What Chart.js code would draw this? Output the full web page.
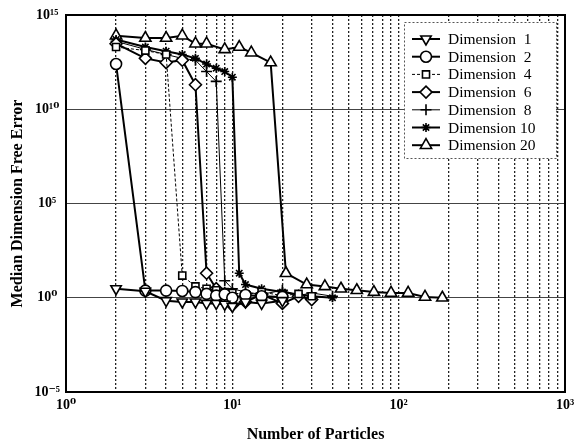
<!DOCTYPE html>
<html><head><meta charset="utf-8">
<script src="https://cdn.jsdelivr.net/npm/chart.js"></script>
<style>html,body{margin:0;padding:0;background:#fff}</style>
</head><body>
<canvas id="c" width="580" height="446"></canvas>
<script>
// ---- data ----
const seriesLabels = ['Dimension  1','Dimension  2','Dimension  4','Dimension  6','Dimension  8','Dimension 10','Dimension 20'];

const xDim1  = [2,3,4,5,6,7,8,9,10,12,15,20];
const yDim1  = [3, 2.2, 0.7, 0.6, 0.6, 0.5, 0.5, 0.45, 0.35, 0.6, 0.5, 0.7];

const xDim2  = [2,3,4,5,6,7,8,9,10,12,15,20];
const yDim2  = [2.5e12, 2.4, 2.4, 2.3, 2, 1.6, 1.3, 1.5, 1.0, 1.4, 1.2, 1.1];

const xDim4  = [2,3,4,5,6,7,8,9,10,12,15,20,25,30];
const yDim4  = [2e13, 1.3e13, 8e12, 15, 4, 3, 2.5, 2, 1.8, 1.5, 2, 1.3, 1.6, 1.2];

const xDim6  = [2,3,4,5,6,7,8,9,10,12,15,20,25,30];
const yDim6  = [3e13, 5e12, 3e12, 4e12, 2e11, 20, 3, 1.6, 0.4, 0.6, 1.5, 0.5, 1.2, 0.8];

const xDim8  = [2,3,4,5,6,7,8,9,10,12,15,20,25,30,40];
const yDim8  = [4e13, 1.5e13, 8e12, 5e12, 4e12, 1e12, 3e11, 8, 3, 2, 1.5, 2.5, 1.3, 1.8, 1.2];

const xDim10 = [2,3,4,5,6,7,8,9,10,11,12,15,20,25,30,40];
const yDim10 = [5e13, 2e13, 1.2e13, 8e12, 5e12, 2.5e12, 1.5e12, 1e12, 5e11, 20, 5, 3, 2, 1.5, 1.2, 1];

const xDim20 = [2,3,4,5,6,7,9,11,13,17,21,28,36,45,56,71,90,114,144,183];
const yDim20 = [8e13,6e13,6e13,8e13,3e13,3e13,1.5e13,2e13,1e13,3e12,20,5,4,3,2.5,2,1.8,1.8,1.1,1];

const xTickValues = [1,2,3,4,5,6,7,8,9,10,20,30,40,50,60,70,80,90,100,200,300,400,500,600,700,800,900,1000];
const xTickLabels = {1:'10\u2070', 10:'10\u00B9', 100:'10\u00B2', 1000:'10\u00B3'};
const yTickValues = [1e-5, 1, 1e5, 1e10, 1e15];
const yTickLabels = ['10\u207B\u2075','10\u2070','10\u2075','10\u00B9\u2070','10\u00B9\u2075'];

const xTitle = 'Number of Particles';
const yTitle = 'Median Dimension Free Error';

// ---- styling ----
const SERIF = "'Liberation Serif','DejaVu Serif','Times New Roman',serif";
const xs = [xDim1,xDim2,xDim4,xDim6,xDim8,xDim10,xDim20];
const ys = [yDim1,yDim2,yDim4,yDim6,yDim8,yDim10,yDim20];
const looks = [
  {pointStyle:'triangle', rot:180, lw:2,   dash:[],    r:6},
  {pointStyle:'circle',   rot:0,   lw:2,   dash:[],    r:5.5},
  {pointStyle:'rect',     rot:0,   lw:1,   dash:[3,2], r:5},
  {pointStyle:'rectRot',  rot:0,   lw:2,   dash:[],    r:6},
  {pointStyle:'cross',    rot:0,   lw:1,   dash:[],    r:5.5},
  {pointStyle:'star',     rot:0,   lw:2,   dash:[],    r:4.5},
  {pointStyle:'triangle', rot:0,   lw:2,   dash:[],    r:6.5}
];

const datasets = seriesLabels.map((lab,i)=>({
  label: lab,
  data: xs[i].map((x,j)=>({x:x, y:ys[i][j]})),
  borderColor:'#000',
  borderWidth: looks[i].lw,
  borderDash: looks[i].dash,
  pointStyle: looks[i].pointStyle,
  pointRotation: looks[i].rot,
  pointRadius: looks[i].r,
  pointBorderWidth: 1.6,
  pointBorderColor:'#000',
  pointBackgroundColor:'#fff',
  fill:false,
  tension:0
}));

const boxPlugin = {
  id:'box',
  afterDatasetsDraw(chart){
    const {ctx, chartArea:a} = chart;
    ctx.save();
    ctx.strokeStyle='#000'; ctx.lineWidth=2;
    ctx.strokeRect(a.left, a.top, a.right-a.left, a.bottom-a.top);
    ctx.restore();
  }
};

const legendPlugin = {
  id:'lineLegend',
  afterDraw(chart){
    const {ctx, chartArea:a} = chart;
    const w=152, h=136, x0=a.right-9-w, y0=a.top+7;
    ctx.save();
    ctx.fillStyle='#fff'; ctx.fillRect(x0,y0,w,h);
    ctx.setLineDash([2,2]); ctx.strokeStyle='#555'; ctx.lineWidth=1;
    ctx.strokeRect(x0+0.5,y0+0.5,w,h);
    ctx.setLineDash([]);
    chart.data.datasets.forEach((ds,i)=>{
      const cy = y0 + 17 + i*17.7;
      ctx.strokeStyle='#000'; ctx.lineWidth=ds.borderWidth;
      ctx.setLineDash(ds.borderDash||[]);
      ctx.beginPath(); ctx.moveTo(x0+8,cy); ctx.lineTo(x0+36,cy); ctx.stroke();
      ctx.setLineDash([]);
      ctx.fillStyle='#fff'; ctx.strokeStyle='#000'; ctx.lineWidth=ds.pointBorderWidth;
      Chart.helpers.drawPoint(ctx,{pointStyle:ds.pointStyle, radius:ds.pointRadius, rotation:ds.pointRotation||0, borderWidth:ds.pointBorderWidth}, x0+22, cy);
      ctx.fillStyle='#000'; ctx.font='15.5px '+SERIF; ctx.textBaseline='middle'; ctx.textAlign='left';
      ctx.fillText(ds.label, x0+44, cy+1);
    });
    ctx.restore();
  }
};

new Chart(document.getElementById('c'), {
  type:'line',
  data:{datasets},
  plugins:[boxPlugin, legendPlugin],
  options:{
    responsive:false, animation:false,
    layout:{padding:{top:15,right:15,left:0,bottom:0}},
    plugins:{legend:{display:false}, tooltip:{enabled:false}},
    scales:{
      x:{
        type:'logarithmic', position:'bottom', min:1, max:1000,
        afterBuildTicks:(s)=>{ s.ticks = xTickValues.map(v=>({value:v})); },
        afterFit:(s)=>{ s.height = 54; },
        ticks:{autoSkip:false, maxRotation:0, padding:5, color:'#000',
          font:{family:SERIF, size:14, weight:'bold'},
          callback:(v)=> xTickLabels[v] || ''},
        grid:{drawTicks:false, lineWidth:1.3,
          color:(c)=>{ const v=c.tick&&c.tick.value; return (v===1||v===1000)?'rgba(0,0,0,0)':'#222'; }},
        border:{display:true, color:'#000', width:2, dash:[2,2]},
        title:{display:true, text:xTitle, color:'#000', font:{family:SERIF, size:16, weight:'bold'}, padding:{top:0,bottom:2}}
      },
      y:{
        type:'logarithmic', position:'left', min:1e-5, max:1e15,
        afterBuildTicks:(s)=>{ s.ticks = yTickValues.map(v=>({value:v})); },
        afterFit:(s)=>{ s.width = 66; },
        ticks:{autoSkip:false, padding:6, color:'#000', crossAlign:'center',
          font:{family:SERIF, size:14, weight:'bold'},
          callback:(v)=>{ const k=yTickValues.indexOf(v); return k>=0?yTickLabels[k]:''; }},
        grid:{drawTicks:false, lineWidth:1,
          color:(c)=>{ const v=c.tick&&c.tick.value; return (v===1e-5||v===1e15)?'rgba(0,0,0,0)':'#444'; }},
        border:{display:true, color:'#000', width:2, dash:[]},
        title:{display:true, text:yTitle, color:'#000', font:{family:SERIF, size:16, weight:'bold'}, padding:{top:8,bottom:0}}
      }
    }
  }
});
</script>
</body></html>
